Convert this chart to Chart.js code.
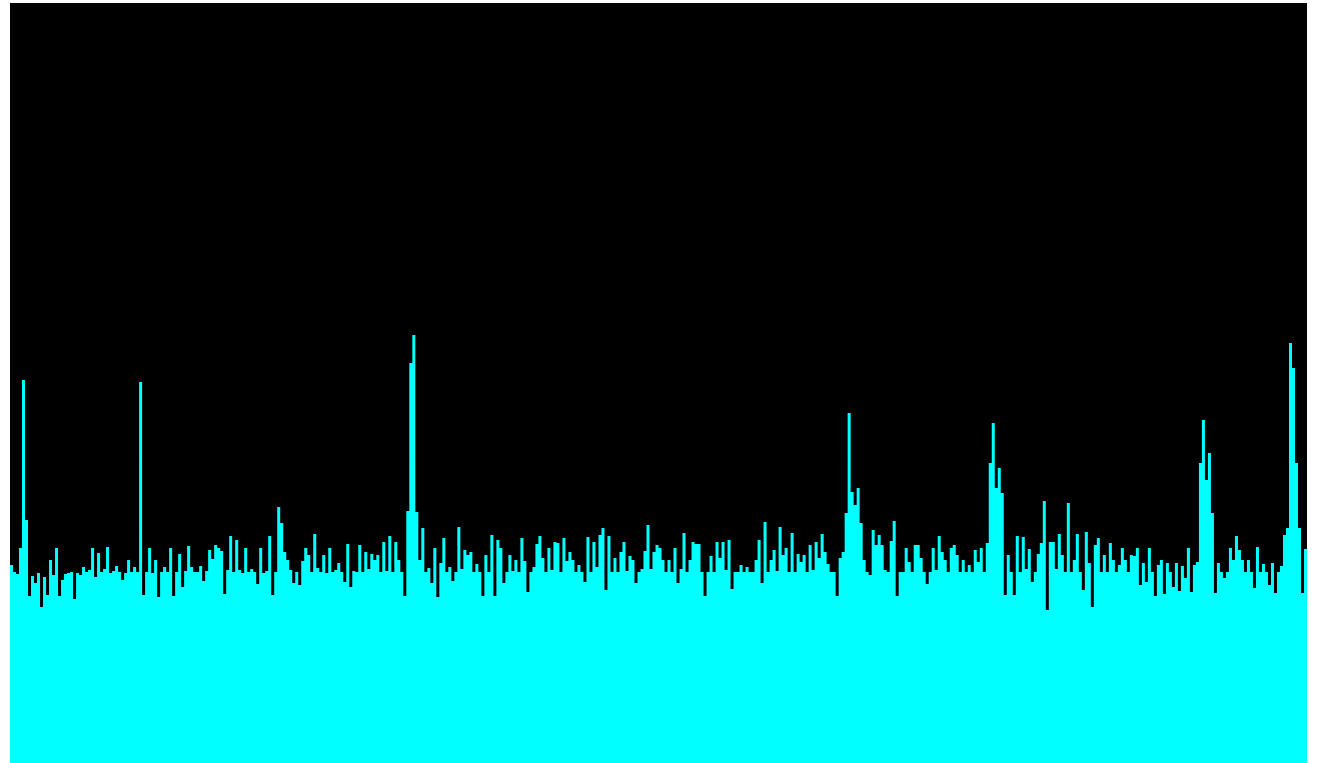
<!DOCTYPE html>
<html lang="en">
<head>
  <meta charset="UTF-8">
  <title>Signal trace</title>
  <script src="https://cdn.jsdelivr.net/npm/chart.js"></script>
  <style>
    html, body {
      margin: 0;
      padding: 0;
      background: #ffffff;
      overflow: hidden;
    }
    #wrap {
      position: absolute;
      left: 10px;
      top: 3px;
      width: 1297px;
      height: 760px;
      background: #000000;
    }
  </style>
</head>
<body>

  <div id="wrap"><canvas id="traccia"></canvas></div>

  <script>
    // sample heights, one per step
    const sampleValues = [
      198,191,189,215,383,243,167,187,180,190,
      156,186,168,203,188,215,167,183,189,190,
      191,164,190,188,196,191,193,215,186,210,
      191,194,216,190,192,197,191,183,190,203,
      191,196,191,381,168,191,215,190,203,166,
      191,196,191,215,167,191,209,176,192,217,
      196,191,191,197,182,192,213,204,218,215,
      212,169,193,227,191,223,193,190,215,191,
      194,191,179,215,190,192,227,168,191,256,
      240,211,203,193,180,191,178,202,215,208,
      191,229,195,191,208,190,215,191,193,200,
      191,181,219,176,192,191,218,191,211,194,
      209,203,208,191,221,192,227,191,221,203,
      191,167,252,400,428,251,203,235,191,195,
      180,215,166,200,225,191,196,182,191,236,
      194,213,208,211,191,199,191,167,208,191,
      228,167,223,215,180,191,208,192,203,191,
      225,202,171,191,196,219,227,205,191,215,
      193,221,220,191,225,202,211,203,191,198,
      191,181,226,191,221,196,228,235,173,227,
      191,205,191,211,221,192,207,203,180,191,
      194,212,238,194,211,218,215,203,191,203,
      191,215,180,194,230,191,203,221,219,219,
      191,167,191,207,191,221,205,221,193,223,
      174,191,191,198,191,196,191,191,203,223,
      180,241,191,203,213,192,236,208,215,191,
      230,191,209,201,208,191,218,193,221,205,
      229,211,199,191,191,167,205,211,250,350,
      271,258,275,240,203,191,188,233,218,228,
      218,193,191,222,242,167,191,191,215,201,
      191,218,218,205,191,179,191,215,193,227,
      211,203,191,215,218,208,191,203,191,198,
      191,213,201,215,191,220,300,340,275,295,
      270,168,208,191,168,227,191,226,194,214,
      181,191,209,220,262,153,221,221,194,229,
      208,191,260,191,203,229,191,173,231,200,
      156,218,225,191,208,191,220,203,191,198,
      215,203,191,208,207,215,178,200,181,215,
      191,167,198,203,169,200,191,176,200,172,
      197,185,215,171,198,201,300,343,283,310,
      250,170,200,191,185,191,215,203,227,213,
      203,191,203,191,175,216,191,199,191,178,
      200,170,191,197,228,235,420,395,300,235,
      170,214,194
    ];

    // sample index used as category
    const sampleIndex = sampleValues.map((_, i) => i);

    const yMin = 0;
    const yMax = 760;

    const ctx = document.getElementById('traccia').getContext('2d');
    const grafico = new Chart(ctx, {
      type: 'line',
      data: {
        labels: sampleIndex,
        datasets: [{
          label: 'Signal',
          data: sampleValues,
          stepped: true,
          fill: 'origin',
          backgroundColor: '#00ffff',
          borderColor: 'rgba(0,0,0,0)',
          borderWidth: 0,
          pointRadius: 0,
          pointHoverRadius: 0
        }]
      },
      options: {
        responsive: true,
        maintainAspectRatio: false,
        animation: false,
        layout: { padding: 0 },
        plugins: {
          legend: { display: false },
          tooltip: { enabled: false }
        },
        scales: {
          x: { display: false, offset: false },
          y: { display: false, min: yMin, max: yMax }
        }
      }
    });
  </script>
</body>
</html>
